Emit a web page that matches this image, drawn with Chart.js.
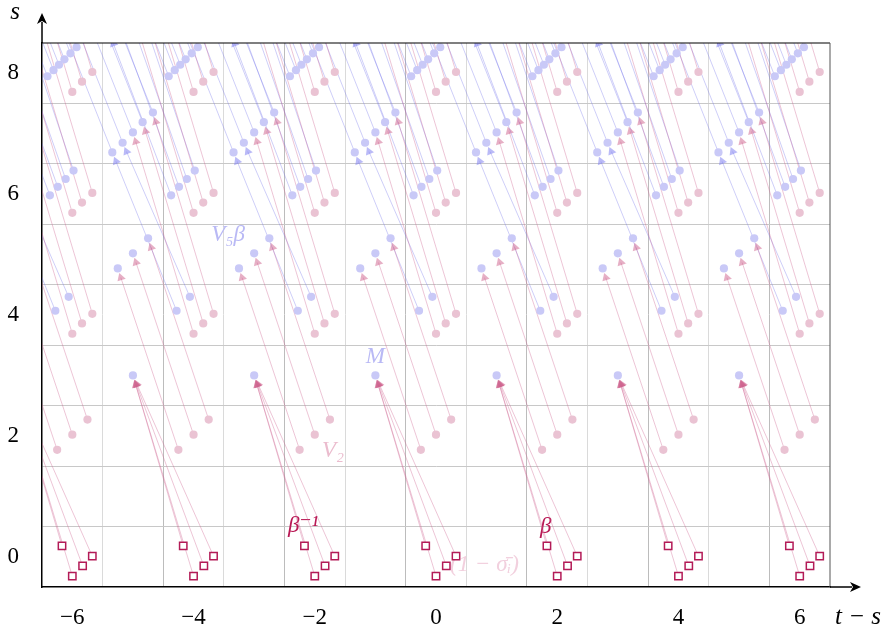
<!DOCTYPE html>
<html><head><meta charset="utf-8">
<script src="https://cdn.jsdelivr.net/npm/chart.js@4.4.1/dist/chart.umd.min.js"></script>
<style>html,body{margin:0;padding:0;background:#fff}#wrap{width:890px;height:633px;position:relative}</style>
</head><body><div id="wrap"><canvas id="c"></canvas></div>
<script>
// ---- data (offsets relative to each period centre, and s values) ----
const periods = [-6, -4, -2, 0, 2, 4, 6];
const squareNodes   = [[-0.17, 0.18], [0.00, -0.32], [0.17, -0.15], [0.33, 0.01]];
const squareTargets = [[-1.0, 3.0], [-1.0, 3.0], [-1.0, 3.0], [-1.0, 3.0]];
const mNode        = [[-1.0, 3.0]];
const pink2Nodes   = [[-0.25, 1.77], [0.0, 2.02], [0.25, 2.27]];
const blue5Nodes   = [[-1.25, 4.77], [-1.0, 5.02], [-0.75, 5.27]];
const blue4Nodes   = [[-0.28, 4.07], [-0.06, 4.30]];
const pink4Nodes   = [[0.0, 3.69], [0.16, 3.86], [0.33, 4.02]];
const blue6Nodes   = [[-0.37, 5.98], [-0.24, 6.12], [-0.11, 6.25], [0.02, 6.39]];
const pink6Nodes   = [[0.0, 5.69], [0.16, 5.86], [0.33, 6.02]];
const blue7Nodes   = [[-1.34, 6.69], [-1.17, 6.85], [-1.0, 7.02], [-0.84, 7.19], [-0.67, 7.35]];
const blue8Nodes   = [[-0.41, 7.95], [-0.31, 8.05], [-0.22, 8.14], [-0.13, 8.23], [-0.03, 8.33], [0.07, 8.43]];
const pink8Nodes   = [[0.0, 7.69], [0.16, 7.86], [0.33, 8.02]];
// targets lying above the frame
const blue6Targets = [[-1.38, 8.64], [-1.22, 8.80], [-1.06, 8.97], [-0.90, 9.13]];
const pink6Targets = [[-1.0, 9.02], [-0.84, 9.19], [-0.67, 9.35]];
const blue7Targets = [[-2.39, 9.34], [-2.22, 9.50], [-2.05, 9.67], [-1.89, 9.84], [-1.72, 10.0]];
const blue8Targets = [[-1.45, 10.6], [-1.35, 10.7], [-1.26, 10.79], [-1.17, 10.88], [-1.07, 10.98], [-0.97, 11.08]];
const pink8Targets = [[-1.0, 11.02], [-0.84, 11.19], [-0.67, 11.35]];

const xLabelValues = [-6, -4, -2, 0, 2, 4, 6];
const yLabelValues = [0, 2, 4, 6, 8];
const xGridValues = [-5.5, -4.5, -3.5, -2.5, -1.5, -0.5, 0.5, 1.5, 2.5, 3.5, 4.5, 5.5];
const yGridValues = [0.5, 1.5, 2.5, 3.5, 4.5, 5.5, 6.5, 7.5];

const textLabels = [
  {text: 'V\u2085\u03B2', x: -3.43, y: 5.33, color: 'rgba(185,185,245,1)'},
  {text: 'M', x: -1.0, y: 3.31, color: 'rgba(185,185,245,1)'},
  {text: 'V\u2082', x: -1.70, y: 1.75, color: 'rgba(235,188,206,1)'},
  {text: '\u03B2\u207B\u00B9', x: -2.19, y: 0.51, color: 'rgba(185,25,85,1)'},
  {text: '\u03B2', x: 1.81, y: 0.50, color: 'rgba(185,25,85,1)'},
  {text: '(1 \u2212 \u03C3\u0304\u1D62)', x: 0.80, y: -0.13, color: 'rgba(242,208,222,1)'}
];

// ---- build marks ----
const pinkEdgeGroups = [[squareNodes, squareTargets], [pink2Nodes, blue5Nodes],
  [pink4Nodes, blue7Nodes.slice(2)], [pink6Nodes, pink6Targets], [pink8Nodes, pink8Targets]];
const blueEdgeGroups = [[blue4Nodes, blue7Nodes.slice(0, 2)], [blue6Nodes, blue6Targets],
  [blue7Nodes, blue7Targets], [blue8Nodes, blue8Targets]];

const ARROW_BACK = 0.16;
function collectEdges(groups) {
  const segs = [], heads = [];
  for (const c of periods) for (const [src, tgt] of groups) src.forEach((s, i) => {
    const t = tgt[i];
    const x0 = c + s[0], y0 = s[1], x1 = c + t[0], y1 = t[1];
    const dx = x1 - x0, dy = y1 - y0, L = Math.hypot(dx, dy);
    const hx = x1 - dx / L * ARROW_BACK, hy = y1 - dy / L * ARROW_BACK;
    segs.push({x: x0, y: y0}, {x: hx, y: hy}, {x: hx, y: null});
    heads.push({x: hx, y: hy, rot: Math.atan2(dx, dy) * 180 / Math.PI});
  });
  return {segs, heads};
}
function place(groups) {
  const out = [];
  for (const c of periods) for (const g of groups) for (const [dx, y] of g) out.push({x: c + dx, y});
  return out;
}
const pinkE = collectEdges(pinkEdgeGroups);
const blueE = collectEdges(blueEdgeGroups);

const SERIF = "'Liberation Serif', 'DejaVu Serif', serif";
const fmt = v => (v < 0 ? '\u2212' + Math.abs(v) : String(v));

const decor = {
  id: 'decor',
  beforeDatasetsDraw(chart) {
    const {ctx, scales: {x, y}} = chart;
    ctx.save();
    ctx.textAlign = 'center'; ctx.textBaseline = 'middle';
    ctx.font = 'italic 23px ' + SERIF;
    for (const l of textLabels) {
      ctx.fillStyle = l.color;
      ctx.fillText(l.text, x.getPixelForValue(l.x), y.getPixelForValue(l.y));
    }
    ctx.restore();
  },
  afterDraw(chart) {
    const {ctx, chartArea: a} = chart;
    ctx.save();
    ctx.lineWidth = 1.2; ctx.strokeStyle = '#000';
    ctx.beginPath(); ctx.moveTo(a.left, a.top); ctx.lineTo(a.right, a.top); ctx.stroke();
    ctx.strokeStyle = '#555'; ctx.lineWidth = 1;
    ctx.beginPath(); ctx.moveTo(a.right, a.top); ctx.lineTo(a.right, a.bottom); ctx.stroke();
    ctx.strokeStyle = '#000'; ctx.fillStyle = '#000'; ctx.lineWidth = 1.5;
    ctx.beginPath(); ctx.moveTo(a.left, a.top); ctx.lineTo(a.left, 22); ctx.stroke();
    ctx.beginPath(); ctx.moveTo(a.left, 13); ctx.lineTo(a.left - 5, 24); ctx.lineTo(a.left, 21); ctx.lineTo(a.left + 5, 24); ctx.closePath(); ctx.fill();
    ctx.beginPath(); ctx.moveTo(a.right, a.bottom); ctx.lineTo(852, a.bottom); ctx.stroke();
    ctx.beginPath(); ctx.moveTo(861, a.bottom); ctx.lineTo(850, a.bottom - 5); ctx.lineTo(853, a.bottom); ctx.lineTo(850, a.bottom + 5); ctx.closePath(); ctx.fill();
    ctx.font = 'italic 25px ' + SERIF; ctx.textBaseline = 'middle'; ctx.textAlign = 'center';
    ctx.fillText('s', 15, 12);
    ctx.fillText('t \u2212 s', 858, 617);
    ctx.restore();
  }
};

new Chart(document.getElementById('c'), {
  type: 'scatter',
  data: {
    datasets: [
      {label: 'squares', data: place([squareNodes]), pointStyle: 'rect', pointRadius: 5.2,
       pointBorderWidth: 1.5, pointBorderColor: '#b31b57', pointBackgroundColor: '#ffffff', order: 0},
      {label: 'blue nodes', data: place([mNode, blue4Nodes, blue5Nodes, blue6Nodes, blue7Nodes, blue8Nodes]),
       pointRadius: 4.1, pointBorderWidth: 0, pointBackgroundColor: '#c9c9f7', order: 1},
      {label: 'pink nodes', data: place([pink2Nodes, pink4Nodes, pink6Nodes, pink8Nodes]),
       pointRadius: 4.1, pointBorderWidth: 0, pointBackgroundColor: '#eac3d3', order: 1},
      {label: 'pink heads', data: pinkE.heads, pointStyle: 'triangle', pointRadius: 5,
       pointRotation: c => (c.raw ? c.raw.rot : 0), pointBorderWidth: 0,
       pointBackgroundColor: 'rgba(205,95,140,0.5)', order: 2},
      {label: 'blue heads', data: blueE.heads, pointStyle: 'triangle', pointRadius: 5,
       pointRotation: c => (c.raw ? c.raw.rot : 0), pointBorderWidth: 0,
       pointBackgroundColor: 'rgba(130,130,240,0.55)', order: 2},
      {label: 'pink edges', data: pinkE.segs, showLine: true, spanGaps: false, pointRadius: 0,
       borderColor: 'rgba(205,95,140,0.36)', borderWidth: 1, order: 3},
      {label: 'blue edges', data: blueE.segs, showLine: true, spanGaps: false, pointRadius: 0,
       borderColor: 'rgba(110,110,235,0.34)', borderWidth: 1, order: 3}
    ]
  },
  options: {
    responsive: true, maintainAspectRatio: false, animation: false, events: [],
    layout: {padding: {left: 0, right: 60, top: 43, bottom: 0}},
    plugins: {legend: {display: false}, tooltip: {enabled: false}},
    scales: {
      x: {
        type: 'linear', min: -6.5, max: 6.5,
        afterBuildTicks: s => { s.ticks = [...xGridValues, ...xLabelValues].sort((a, b) => a - b).map(v => ({value: v})); },
        afterFit: s => { s.height = 46; },
        grid: {drawTicks: false, lineWidth: 1,
               color: c => Number.isInteger(c.tick.value) ? 'rgba(0,0,0,0)' : (((c.tick.value + 0.5) % 2 === 0) ? '#bcbcbc' : '#dadada')},
        border: {display: true, color: '#000', width: 1.5},
        ticks: {autoSkip: false, maxRotation: 0, padding: 17, color: '#000', font: {family: SERIF, size: 23},
                callback: v => xLabelValues.includes(v) ? fmt(v) : ''}
      },
      y: {
        type: 'linear', min: -0.5, max: 8.5,
        afterBuildTicks: s => { s.ticks = [...yGridValues, ...yLabelValues].sort((a, b) => a - b).map(v => ({value: v})); },
        afterFit: s => { s.width = 42; },
        grid: {drawTicks: false, lineWidth: 1,
               color: c => Number.isInteger(c.tick.value) ? 'rgba(0,0,0,0)' : '#c8c8c8'},
        border: {display: true, color: '#000', width: 1.5},
        ticks: {autoSkip: false, padding: 23, color: '#000', font: {family: SERIF, size: 23},
                callback: v => yLabelValues.includes(v) ? fmt(v) : ''}
      }
    }
  },
  plugins: [decor]
});
</script></body></html>
